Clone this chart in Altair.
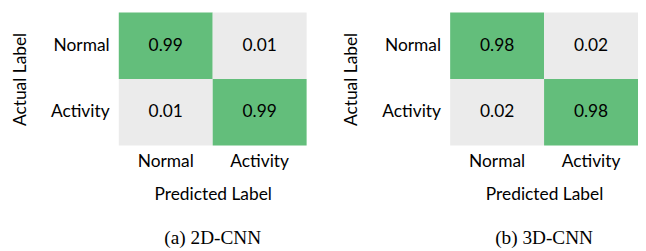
import altair as alt
import pandas as pd

classes = ["Normal", "Activity"]
cnn2d = [[0.99, 0.01], [0.01, 0.99]]
cnn3d = [[0.98, 0.02], [0.02, 0.98]]
captions = ["(a) 2D-CNN", "(b) 3D-CNN"]

GREEN = "#63be7b"
GRAY = "#ebebeb"
SANS = "Lato"
SERIF = "Liberation Serif"
FS = 18


def panel(mat, caption):
    rows = []
    for i, a in enumerate(classes):
        for j, p in enumerate(classes):
            rows.append({"actual": a, "pred": p, "value": mat[i][j]})
    df = pd.DataFrame(rows)
    base = alt.Chart(df).encode(
        x=alt.X("pred:N", sort=classes, title="Predicted Label",
                scale=alt.Scale(paddingInner=0, paddingOuter=0),
                axis=alt.Axis(orient="bottom", ticks=False, domain=False, labelAngle=0,
                              labelFont=SANS, labelFontSize=FS, labelColor="black",
                              labelPadding=8, titleFont=SANS, titleFontSize=FS,
                              titleFontWeight="normal", titleColor="black", titlePadding=16)),
        y=alt.Y("actual:N", sort=classes, title="Actual Label",
                scale=alt.Scale(paddingInner=0, paddingOuter=0),
                axis=alt.Axis(ticks=False, domain=False,
                              labelFont=SANS, labelFontSize=FS, labelColor="black",
                              labelPadding=10, titleFont=SANS, titleFontSize=FS,
                              titleFontWeight="normal", titleColor="black", titlePadding=22)),
    )
    rect = base.mark_rect().encode(
        color=alt.Color("value:Q", scale=alt.Scale(type="threshold", domain=[0.5], range=[GRAY, GREEN]),
                        legend=None)
    )
    text = base.mark_text(font=SANS, fontSize=FS, color="black").encode(
        text=alt.Text("value:Q", format=".2f")
    )
    return (rect + text).properties(
        width=195, height=138,
        title=alt.TitleParams(caption, orient="bottom", font=SERIF, fontSize=20,
                              fontWeight="normal", color="black", offset=26),
    )


chart = alt.hconcat(panel(cnn2d, captions[0]), panel(cnn3d, captions[1]), spacing=38).properties(
    padding={"left": 4, "top": 0, "right": 0, "bottom": 0}
).configure_view(stroke=None)

chart.save("out.html", embed_options={"renderer": "svg", "actions": False})
